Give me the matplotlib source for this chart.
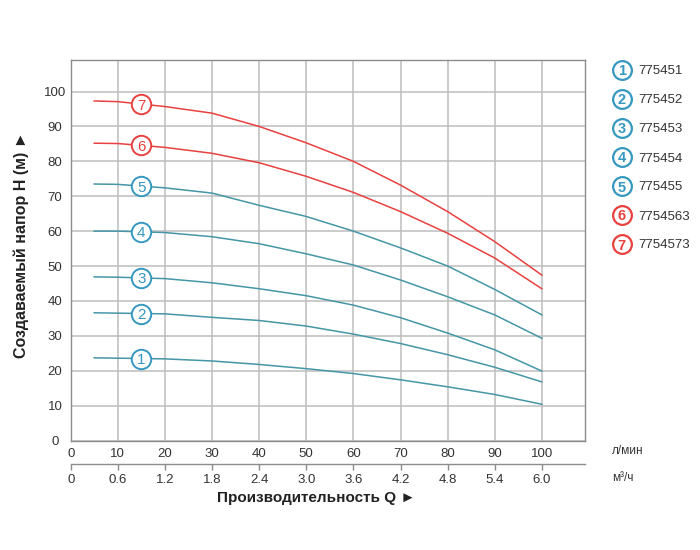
import matplotlib
matplotlib.use("Agg")
import matplotlib.pyplot as plt
import numpy as np
from matplotlib.lines import Line2D

plt.rcParams['font.family'] = ['Liberation Sans', 'DejaVu Sans']

# расход, л/мин
q = [5, 10, 20, 30, 40, 50, 60, 70, 80, 90, 100]
h1 = [23.7, 23.6, 23.4, 22.8, 21.8, 20.6, 19.2, 17.4, 15.4, 13.2, 10.4]
h2 = [36.6, 36.5, 36.3, 35.3, 34.4, 32.8, 30.5, 27.8, 24.6, 21.0, 16.8]
h3 = [46.9, 46.8, 46.4, 45.2, 43.5, 41.5, 38.8, 35.2, 30.8, 26.0, 19.9]
h4 = [60.0, 60.0, 59.6, 58.4, 56.4, 53.5, 50.3, 46.0, 41.2, 36.0, 29.3]
h5 = [73.5, 73.4, 72.4, 70.9, 67.4, 64.2, 60.0, 55.2, 50.0, 43.3, 36.0]
h6 = [85.2, 85.1, 84.0, 82.3, 79.6, 75.7, 71.1, 65.6, 59.4, 52.3, 43.5]
h7 = [97.3, 97.1, 95.7, 93.8, 90.0, 85.3, 80.0, 73.2, 65.6, 57.0, 47.4]
curves = [h1, h2, h3, h4, h5, h6, h7]
models = ['775451', '775452', '775453', '775454', '775455', '7754563', '7754573']

x_ticks = [0, 10, 20, 30, 40, 50, 60, 70, 80, 90, 100]
m3_ticks = [0, 0.6, 1.2, 1.8, 2.4, 3.0, 3.6, 4.2, 4.8, 5.4, 6.0]
m3_labels = ['0', '0.6', '1.2', '1.8', '2.4', '3.0', '3.6', '4.2', '4.8', '5.4', '6.0']
y_ticks = [0, 10, 20, 30, 40, 50, 60, 70, 80, 90, 100]

teal = '#4596a6'
teal_c = '#3598c0'
red = '#e8413f'
line_cols = [teal] * 5 + [red] * 2
circ_cols = [teal_c] * 5 + [red] * 2
grey = '#8c8c8c'
txt = '#333333'

fig = plt.figure(figsize=(7, 5.5), dpi=100)
ax = fig.add_axes([0.101, 0.199, 0.734, 0.692])
ax.set_xlim(0, 109.05)
ax.set_ylim(0, 109.05)

ax.set_xticks(x_ticks)
ax.set_yticks(y_ticks)
ax.grid(True, color='#bdbdbd', lw=1.1)
ax.set_axisbelow(True)
for s in ax.spines.values():
    s.set_color(grey)
    s.set_linewidth(1.0)
ax.tick_params(axis='both', length=0, labelsize=9.5, labelcolor=txt)
ax.tick_params(axis='x', pad=5.5)
ax.tick_params(axis='y', pad=11.3)
for lb in ax.get_yticklabels():
    lb.set_horizontalalignment('center')

for i, h in enumerate(curves):
    ax.plot(q, h, color=line_cols[i], lw=1.1, zorder=3)
    yc = np.interp(15, q, h)
    ax.plot(15, yc, 'o', ms=14, mfc='white', mec=circ_cols[i], mew=1.4, zorder=4)
    ax.text(15, yc, str(i + 1), color=circ_cols[i], fontsize=11, ha='center',
            va='center_baseline', zorder=5)

# вторая шкала м³/ч
sec = ax.secondary_xaxis(-0.0623, functions=(lambda x: x * 0.06, lambda x: x / 0.06))
sec.set_xticks(m3_ticks)
sec.set_xticklabels(m3_labels)
sec.spines['bottom'].set_color(grey)
sec.spines['bottom'].set_linewidth(1.0)
sec.tick_params(axis='x', direction='out', length=4.1, width=1.0, color=grey,
                labelsize=9.5, labelcolor=txt, pad=3)

fig.text(612 / 700, 1 - 451 / 550, 'л/мин', fontsize=8.5, color=txt, va='center')
fig.text(612 / 700, 1 - 478 / 550, 'м³/ч', fontsize=8.5, color=txt, va='center')

fig.text(316 / 700, 1 - 498 / 550, 'Производительность Q ►', fontsize=11,
         fontweight='bold', ha='center', va='center', color='#222222')
fig.text(21.5 / 700, 1 - 245 / 550, 'Создаваемый напор H (м) ►', fontsize=11.5,
         fontweight='bold', ha='center', va='center', rotation=90, color='#222222')

# легенда справа
for i, name in enumerate(models):
    yy = 1 - (70 + 29 * i) / 550
    fig.add_artist(Line2D([621.7 / 700], [yy], marker='o', ms=13.5, mfc='white',
                          mec=circ_cols[i], mew=1.6, transform=fig.transFigure))
    fig.text(621.7 / 700, yy, str(i + 1), color=circ_cols[i], fontsize=10.5,
             ha='center', va='center_baseline', fontweight='bold')
    fig.text(638 / 700, yy, name, color=txt, fontsize=9.5, va='center_baseline')

fig.savefig('out.png', dpi=100)
